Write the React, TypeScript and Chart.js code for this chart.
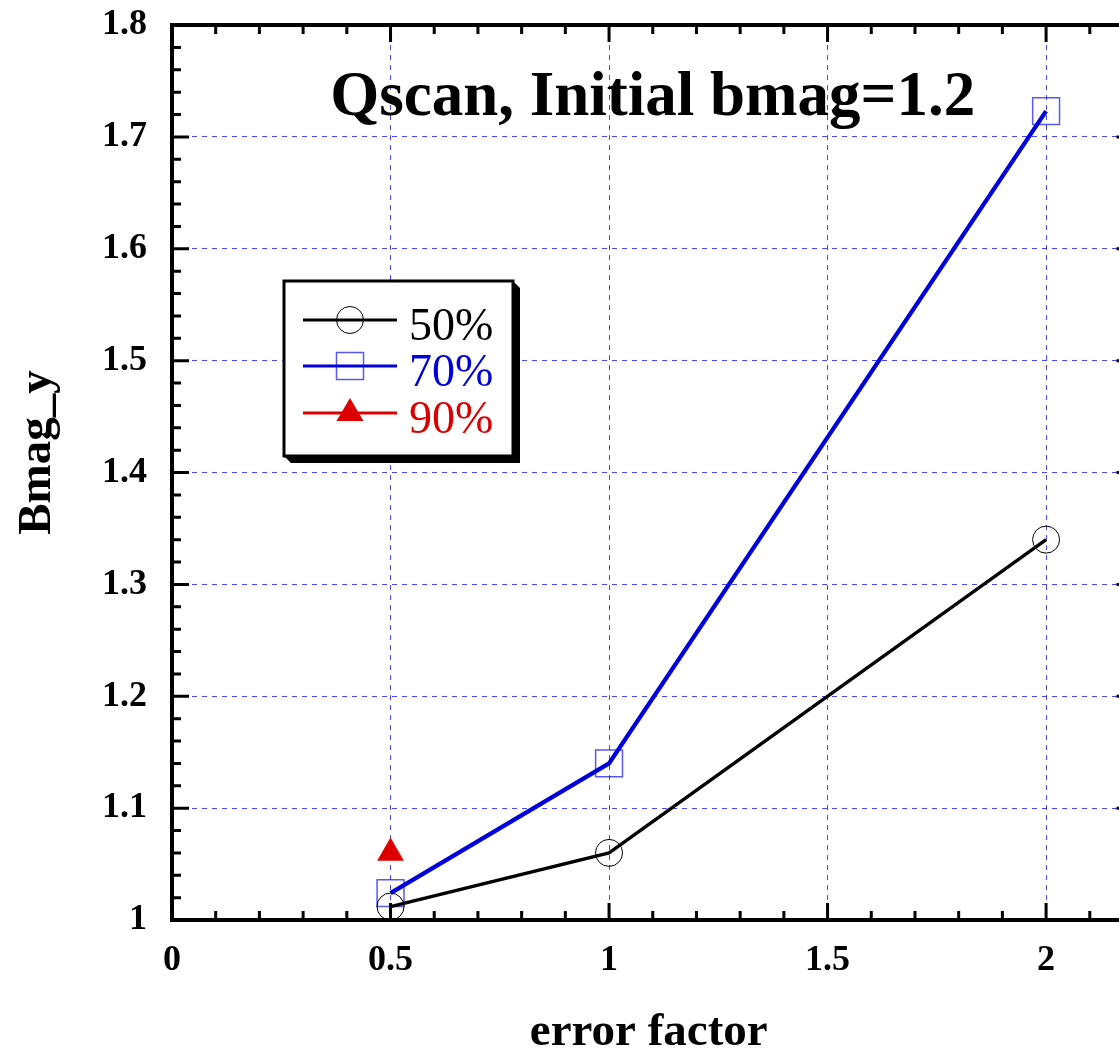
import React, { useEffect, useRef } from 'react';
import { Chart, registerables } from 'chart.js';

Chart.register(...registerables);

const seriesLabels = ['50%', '70%', '90%'];
const xValues50 = [0.5, 1, 2];
const yValues50 = [1.012, 1.06, 1.34];
const xValues70 = [0.5, 1, 2];
const yValues70 = [1.024, 1.14, 1.723];
const xValues90 = [0.5];
const yValues90 = [1.06];
const xTickLabels = ['0', '0.5', '1', '1.5', '2'];
const yTickLabels = ['1', '1.1', '1.2', '1.3', '1.4', '1.5', '1.6', '1.7', '1.8'];
const titleText = 'Qscan, Initial bmag=1.2';
const xAxisTitle = 'error factor';
const yAxisTitle = 'Bmag_y';

const BLACK = '#000000';
const BLUE = '#0000dd';
const RED = '#dd0000';
const SERIF = '"Liberation Serif", "Times New Roman", serif';

const toPoints = (xs: number[], ys: number[]) => xs.map((x, i) => ({ x, y: ys[i] }));

const framePlugin = {
  id: 'frameAndDecor',
  afterDatasetsDraw(chart: any) {
    const ctx = chart.ctx;
    const { left, right, top, bottom } = chart.chartArea;
    const xs = chart.scales.x;
    const ys = chart.scales.y;
    ctx.save();
    // ticks
    ctx.strokeStyle = '#000';
    ctx.lineWidth = 3;
    ctx.lineCap = 'butt';
    ctx.beginPath();
    for (let i = 0; i <= 22; i++) {
      const px = xs.getPixelForValue(i / 10);
      const len = i % 5 === 0 ? 17 : 9;
      ctx.moveTo(px, bottom);
      ctx.lineTo(px, bottom - len);
      ctx.moveTo(px, top);
      ctx.lineTo(px, top + len);
    }
    for (let i = 0; i <= 40; i++) {
      const py = ys.getPixelForValue(1 + i / 50);
      const len = i % 5 === 0 ? 17 : 9;
      ctx.moveTo(left, py);
      ctx.lineTo(left + len, py);
      ctx.moveTo(right, py);
      ctx.lineTo(right - len, py);
    }
    ctx.stroke();
    // frame
    ctx.lineWidth = 4;
    ctx.strokeRect(left, top, right - left, bottom - top);

    // title
    const cxMid = xs.getPixelForValue(1.1);
    ctx.fillStyle = '#000';
    ctx.font = `bold 63px ${SERIF}`;
    ctx.textAlign = 'center';
    ctx.textBaseline = 'alphabetic';
    ctx.fillText(titleText, cxMid, top + 90);

    // axis titles
    ctx.font = `bold 47px ${SERIF}`;
    ctx.fillText(xAxisTitle, cxMid - 4, bottom + 125);
    ctx.save();
    ctx.translate(left - 122, (top + bottom) / 2 - 20);
    ctx.rotate(-Math.PI / 2);
    ctx.fillText(yAxisTitle, 0, 0);
    ctx.restore();

    // legend
    const bx = left + 112;
    const by = top + 256;
    const bw = 229;
    const bh = 175;
    const sh = 7;
    ctx.fillStyle = '#000';
    ctx.beginPath();
    ctx.moveTo(bx + bw, by);
    ctx.lineTo(bx + bw + sh, by + sh);
    ctx.lineTo(bx + bw + sh, by + bh + sh);
    ctx.lineTo(bx + sh, by + bh + sh);
    ctx.lineTo(bx, by + bh);
    ctx.closePath();
    ctx.fill();
    ctx.fillStyle = '#fff';
    ctx.fillRect(bx, by, bw, bh);
    ctx.lineWidth = 3;
    ctx.strokeStyle = '#000';
    ctx.strokeRect(bx, by, bw, bh);

    const rowYs = [39, 85, 132];
    const colors = [BLACK, BLUE, RED];
    chart.data.datasets.forEach((ds: any, i: number) => {
      const ry = by + rowYs[i];
      const cx = bx + 66;
      ctx.strokeStyle = colors[i];
      ctx.lineWidth = 3;
      ctx.beginPath();
      ctx.moveTo(bx + 19, ry);
      ctx.lineTo(bx + 113, ry);
      ctx.stroke();
      if (i === 0) {
        ctx.lineWidth = 1;
        ctx.strokeStyle = '#000';
        ctx.beginPath();
        ctx.arc(cx, ry, 13.5, 0, Math.PI * 2);
        ctx.stroke();
      } else if (i === 1) {
        ctx.lineWidth = 1.5;
        ctx.strokeStyle = 'rgba(0,0,230,0.65)';
        ctx.strokeRect(cx - 13.5, ry - 13.5, 27, 27);
      } else {
        ctx.fillStyle = RED;
        ctx.beginPath();
        ctx.moveTo(cx, ry - 15);
        ctx.lineTo(cx + 13.5, ry + 8);
        ctx.lineTo(cx - 13.5, ry + 8);
        ctx.closePath();
        ctx.fill();
      }
      ctx.fillStyle = colors[i];
      ctx.font = `46px ${SERIF}`;
      ctx.textAlign = 'left';
      ctx.textBaseline = 'alphabetic';
      ctx.fillText(ds.label, bx + 125, ry + 20);
    });
    ctx.restore();
  },
};

export default function App() {
  const canvasRef = useRef<HTMLCanvasElement | null>(null);

  useEffect(() => {
    document.body.style.margin = '0';
    document.body.style.overflow = 'hidden';
    const canvas = canvasRef.current;
    if (!canvas) return;
    const zeroPad = (s: any) => {
      s.paddingTop = 0;
      s.paddingBottom = 0;
      s.paddingLeft = 0;
      s.paddingRight = 0;
    };
    const chart = new Chart(canvas, {
      type: 'scatter',
      data: {
        datasets: [
          {
            label: seriesLabels[0],
            data: toPoints(xValues50, yValues50),
            showLine: true,
            borderColor: BLACK,
            borderWidth: 3.3,
            pointStyle: 'circle',
            pointRadius: 13.5,
            pointBorderWidth: 1,
            pointBorderColor: BLACK,
            pointBackgroundColor: 'rgba(0,0,0,0)',
            clip: false,
          },
          {
            label: seriesLabels[1],
            data: toPoints(xValues70, yValues70),
            showLine: true,
            borderColor: BLUE,
            borderWidth: 4.3,
            pointStyle: 'rect',
            pointRadius: 19,
            pointBorderWidth: 1.5,
            pointBorderColor: 'rgba(0,0,230,0.65)',
            pointBackgroundColor: 'rgba(0,0,0,0)',
            clip: false,
          },
          {
            label: seriesLabels[2],
            data: toPoints(xValues90, yValues90),
            showLine: false,
            borderColor: RED,
            borderWidth: 3,
            pointStyle: 'triangle',
            pointRadius: 15.5,
            pointBorderWidth: 0,
            pointBorderColor: RED,
            pointBackgroundColor: RED,
            clip: false,
          },
        ],
      },
      options: {
        responsive: false,
        animation: false,
        devicePixelRatio: 1,
        events: [],
        layout: { padding: { top: 25, right: 10, bottom: 0, left: 0 } },
        plugins: {
          legend: { display: false },
          title: { display: false },
          tooltip: { enabled: false },
        },
        scales: {
          x: {
            type: 'linear',
            min: 0,
            max: 2.2,
            afterFit: (s: any) => {
              s.height = 135;
              zeroPad(s);
            },
            ticks: {
              stepSize: 0.5,
              includeBounds: false,
              padding: 19,
              color: '#000',
              font: { family: SERIF, size: 36, weight: 'bold' },
              callback: (_v: any, i: number) => xTickLabels[i],
            },
            grid: {
              drawTicks: false,
              color: 'rgba(50,50,255,0.9)',
              lineWidth: 1,
            },
            border: { display: false, dash: [5, 5] },
          },
          y: {
            type: 'linear',
            min: 1,
            max: 1.8,
            afterFit: (s: any) => {
              s.width = 172;
              zeroPad(s);
            },
            ticks: {
              stepSize: 0.1,
              padding: 25,
              color: '#000',
              font: { family: SERIF, size: 36, weight: 'bold' },
              callback: (_v: any, i: number) => yTickLabels[i],
            },
            grid: {
              drawTicks: false,
              color: 'rgba(50,50,255,0.9)',
              lineWidth: 1,
            },
            border: { display: false, dash: [5, 5] },
          },
        },
      } as any,
      plugins: [framePlugin],
    });
    return () => chart.destroy();
  }, []);

  return (
    <div style={{ width: 1119, height: 1055, overflow: 'hidden', position: 'relative', background: '#fff' }}>
      <canvas ref={canvasRef} width={1154} height={1055} style={{ width: 1154, height: 1055, display: 'block' }} />
    </div>
  );
}
